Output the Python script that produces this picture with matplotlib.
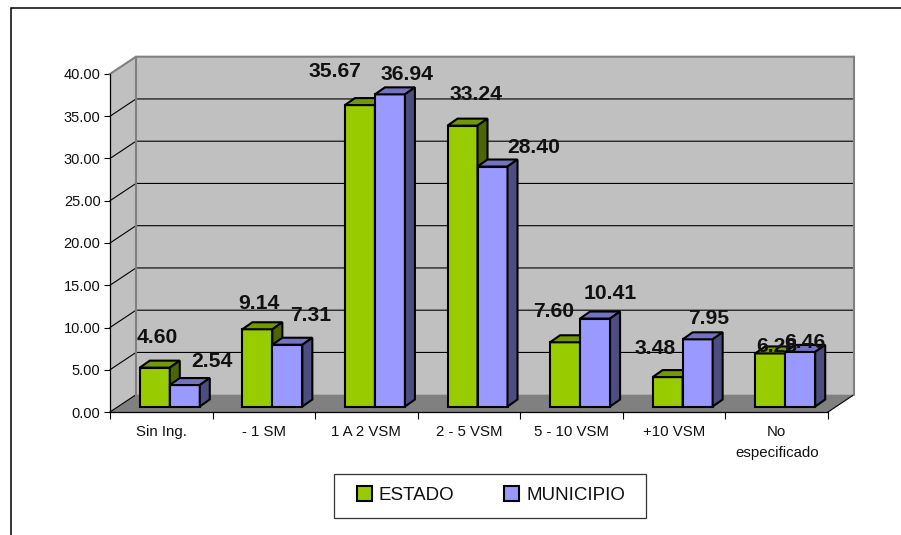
#!/usr/bin/env python3
import matplotlib
matplotlib.use("Agg")
import matplotlib.pyplot as plt
from matplotlib.lines import Line2D
from matplotlib.patches import Patch, Polygon, Rectangle

categories = ["Sin Ing.", "- 1 SM", "1 A 2 VSM", "2 - 5 VSM", "5 - 10 VSM", "+10 VSM", "No\nespecificado"]
estado = [4.60, 9.14, 35.67, 33.24, 7.60, 3.48, 6.28]
municipio = [2.54, 7.31, 36.94, 28.40, 10.41, 7.95, 6.46]
y_ticks = [0, 5, 10, 15, 20, 25, 30, 35, 40]

# hand placed data labels in the original, offset from bar centre top (pixels)
estado_offsets = [(2, 30), (2, 26), (-25, 34), (14, 31), (-11, 31), (-13, 29), (7, 7)]
municipio_offsets = [(27, 24), (23, 29), (17, 20), (41, 19), (15, 25), (11, 21), (5, 9)]

W, H = 901, 535
LEFT, RIGHT, TOP, BOTTOM = 110, 828, 74, 412

GREEN = ("#99CC00", "#739900", "#4D6600")
PURPLE = ("#9999FF", "#7373BF", "#4D4D80")

plt.rcParams["font.family"] = ["Liberation Sans", "DejaVu Sans"]

fig = plt.figure(figsize=(W / 100, H / 100), dpi=100)
ax = fig.add_axes([LEFT / W, 1 - BOTTOM / H, (RIGHT - LEFT) / W, (BOTTOM - TOP) / H])
ax.set_xlim(0, len(categories))
ax.set_ylim(0, y_ticks[-1])

# pixel sizes expressed in data units
px_x = len(categories) / (RIGHT - LEFT)
px_y = y_ticks[-1] / (BOTTOM - TOP)
wall_dx, wall_dy = 26 * px_x, 17.3 * px_y
bar_dx, bar_dy = 10 * px_x, 7 * px_y
bar_w = 30 * px_x
bar_base = 5.5 * px_y
bar_shift = 8.5 * px_x


def poly(pts, color, edge="none", lw=0, z=1):
    ax.add_patch(Polygon(pts, closed=True, facecolor=color, edgecolor=edge, linewidth=lw,
                         clip_on=False, zorder=z, joinstyle="miter"))


def draw_walls():
    x_max, y_max = len(categories), y_ticks[-1]
    bx0, bx1 = wall_dx, x_max + wall_dx
    by0, by1 = wall_dy, y_max + wall_dy
    poly([(bx0, by0), (bx1, by0), (bx1, by1), (bx0, by1)], "#C0C0C0")
    poly([(0, 0), (bx0, by0), (bx0, by1), (0, y_max)], "#C0C0C0")
    poly([(0, 0), (x_max, 0), (bx1, by0), (bx0, by0)], "#808080")
    # grid on back and side wall
    for t in y_ticks[1:-1]:
        ax.plot([0, bx0, bx1], [t, t + wall_dy, t + wall_dy], color="black", lw=0.8, zorder=2,
                clip_on=False)
    ax.plot([0, bx0], [0, wall_dy], color="black", lw=0.8, zorder=2, clip_on=False)
    ax.plot([x_max, bx1], [0, wall_dy], color="black", lw=0.8, zorder=2, clip_on=False)
    # grey outline
    ax.plot([0, bx0, bx1, bx1], [y_max, by1, by1, by0], color="#808080", lw=1.5, zorder=2,
            clip_on=False, solid_joinstyle="miter")
    ax.plot([bx0, bx0], [by0, by1], color="#808080", lw=1.5, zorder=2, clip_on=False)


def draw_bar(x0, value, colors, z):
    x1 = x0 + bar_w
    top = bar_base + value
    edge = dict(edge="black", lw=1.5, z=z)
    poly([(x0, bar_base), (x1, bar_base), (x1, top), (x0, top)], colors[0], **edge)
    poly([(x0, top), (x1, top), (x1 + bar_dx, top + bar_dy), (x0 + bar_dx, top + bar_dy)], colors[1], **edge)
    poly([(x1, bar_base), (x1 + bar_dx, bar_base + bar_dy), (x1 + bar_dx, top + bar_dy), (x1, top)],
         colors[2], **edge)


def draw_label(x, value, offset):
    ax.text(x + offset[0] * px_x, bar_base + value + offset[1] * px_y, f"{value:.2f}",
            ha="center", va="center", fontsize=15.2, fontweight="bold", color="#111111",
            zorder=30, clip_on=False)


draw_walls()

for i in range(len(categories)):
    centre = i + 0.5 + bar_shift
    z = 5 + i
    draw_bar(centre - bar_w, estado[i], GREEN, z)
    draw_bar(centre, municipio[i], PURPLE, z + 0.5)
    draw_label(centre - bar_w / 2, estado[i], estado_offsets[i])
    draw_label(centre + bar_w / 2, municipio[i], municipio_offsets[i])

# axes
for side in ["top", "right"]:
    ax.spines[side].set_visible(False)
for side in ["left", "bottom"]:
    ax.spines[side].set_linewidth(0.9)
    ax.spines[side].set_zorder(3)
ax.patch.set_visible(False)

ax.set_yticks(y_ticks)
ax.set_yticklabels([f"{t:.2f}" for t in y_ticks], fontsize=10.5, color="#111111")
ax.tick_params(axis="y", length=4.3, width=0.8, pad=2.5)
ax.set_xticks(range(len(categories) + 1))
ax.set_xticklabels([])
ax.tick_params(axis="x", length=4.8, width=0.8)
ax.set_xticks([i + 0.5 for i in range(len(categories))], minor=True)
ax.set_xticklabels(categories, minor=True, fontsize=10.8, color="#111111", linespacing=1.65)
ax.tick_params(axis="x", which="minor", length=0, pad=9.5)

# legend box, the frame is a separate patch so its height can be matched
fig.add_artist(Rectangle((334 / W, 1 - 518 / H), 312 / W, 44 / H, transform=fig.transFigure,
                         facecolor="white", edgecolor="#333333", linewidth=0.9))
handles = [Patch(facecolor=GREEN[0], edgecolor="black", linewidth=1.5, label="ESTADO"),
           Patch(facecolor=PURPLE[0], edgecolor="black", linewidth=1.5, label="MUNICIPIO")]
leg = fig.legend(handles=handles, loc="center", bbox_to_anchor=(491 / W, 1 - 495 / H), ncol=2,
                 frameon=False, fontsize=13.5, handlelength=0.8, handleheight=0.8,
                 handletextpad=0.38, columnspacing=2.67, borderpad=0)
for t in leg.get_texts():
    t.set_color("#111111")

# outer chart border, only top and left are inside the crop
fig.add_artist(Line2D([10.5 / W, 10.5 / W, 1], [0, 1 - 8 / H, 1 - 8 / H], color="black", lw=1.1,
                      transform=fig.transFigure, solid_joinstyle="miter"))

fig.savefig("out.png", dpi=100)
